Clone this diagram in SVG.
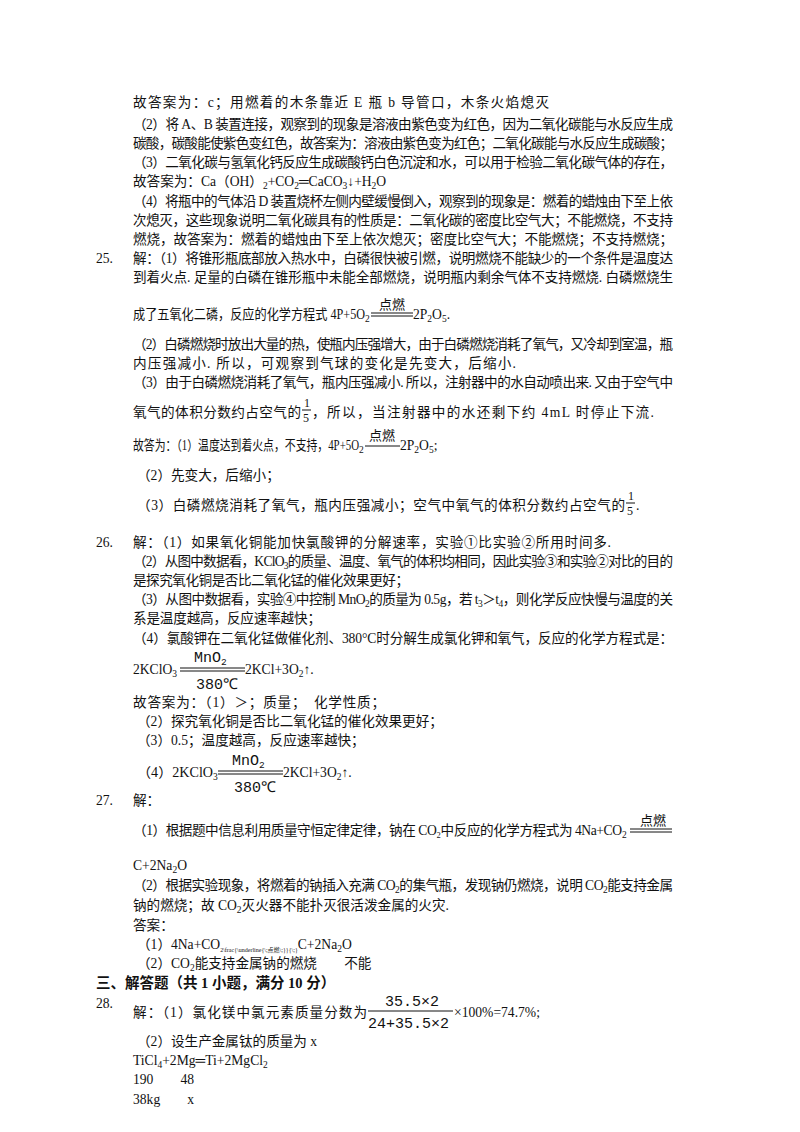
<svg xmlns="http://www.w3.org/2000/svg" width="800" height="1132" viewBox="0 0 800 1132">
<style>
text{font-family:"Liberation Serif","Noto Sans CJK SC",serif;font-size:13.6px;fill:#111}
.s{font-size:9.5px}
.b{font-weight:bold;font-size:14.5px}
.m{font-family:"Liberation Mono","DejaVu Sans Mono",monospace;font-size:15px}
.f{font-size:6px}
.d{font-size:13px}
line{stroke:#111;stroke-width:1}
</style>
<rect width="800" height="1132" fill="#fff"/>
<g id="text">
<text x="133" y="107" textLength="416">故答案为：c；用燃着的木条靠近 E 瓶 b 导管口，木条火焰熄灭</text>
<text x="133" y="129" textLength="540">（2）将 A、B 装置连接，观察到的现象是溶液由紫色变为红色，因为二氧化碳能与水反应生成</text>
<text x="133" y="148" textLength="540">碳酸，碳酸能使紫色变红色，故答案为：溶液由紫色变为红色；二氧化碳能与水反应生成碳酸；</text>
<text x="133" y="167" textLength="540">（3）二氧化碳与氢氧化钙反应生成碳酸钙白色沉淀和水，可以用于检验二氧化碳气体的存在，</text>
<text x="133" y="186">故答案为：Ca（OH）<tspan class="s" dy="3">2</tspan><tspan dy="-3">+CO</tspan><tspan class="s" dy="3">2</tspan><tspan dy="-3">═CaCO</tspan><tspan class="s" dy="3">3</tspan><tspan dy="-3">↓+H</tspan><tspan class="s" dy="3">2</tspan><tspan dy="-3">O</tspan></text>
<text x="133" y="206" textLength="540">（4）将瓶中的气体沿 D 装置烧杯左侧内壁缓慢倒入，观察到的现象是：燃着的蜡烛由下至上依</text>
<text x="133" y="225" textLength="540">次熄灭，这些现象说明二氧化碳具有的性质是：二氧化碳的密度比空气大；不能燃烧，不支持</text>
<text x="133" y="244" textLength="540">燃烧，故答案为：燃着的蜡烛由下至上依次熄灭；密度比空气大；不能燃烧；不支持燃烧；</text>
<text x="96" y="263">25.</text>
<text x="133" y="263" textLength="540">解：（1）将锥形瓶底部放入热水中，白磷很快被引燃，说明燃烧不能缺少的一个条件是温度达</text>
<text x="133" y="282" textLength="540">到着火点. 足量的白磷在锥形瓶中未能全部燃烧，说明瓶内剩余气体不支持燃烧. 白磷燃烧生</text>
<text x="133" y="319" textLength="232" lengthAdjust="spacingAndGlyphs">成了五氧化二磷，反应的化学方程式 4P+5O</text>
<text x="365" y="322" class="s">2</text>
<line x1="371" y1="313" x2="413" y2="313"/><line x1="371" y1="316" x2="413" y2="316"/>
<text x="379" y="309" class="d">点燃</text>
<text x="413" y="319">2P<tspan class="s" dy="3">2</tspan><tspan dy="-3">O</tspan><tspan class="s" dy="3">5</tspan><tspan dy="-3">.</tspan></text>
<text x="133" y="349" textLength="540">（2）白磷燃烧时放出大量的热，使瓶内压强增大，由于白磷燃烧消耗了氧气，又冷却到室温，瓶</text>
<text x="133" y="368" textLength="383">内压强减小. 所以，可观察到气球的变化是先变大，后缩小.</text>
<text x="133" y="387" textLength="540">（3）由于白磷燃烧消耗了氧气，瓶内压强减小. 所以，注射器中的水自动喷出来. 又由于空气中</text>
<text x="133" y="417" textLength="168">氧气的体积分数约占空气的</text>
<text x="304" y="407" style="font-size:12px">1</text><line x1="302" y1="410" x2="311" y2="410"/><text x="303" y="422" style="font-size:12px">5</text>
<text x="312" y="417" textLength="342">，所以，当注射器中的水还剩下约 4mL 时停止下流.</text>
<text x="133" y="450" textLength="226" lengthAdjust="spacingAndGlyphs">故答为：（1）温度达到着火点，不支持，4P+5O</text>
<text x="359" y="453" class="s">2</text>
<line x1="365" y1="446" x2="400" y2="446"/>
<text x="369" y="440" class="d">点燃</text>
<text x="400" y="450">2P<tspan class="s" dy="3">2</tspan><tspan dy="-3">O</tspan><tspan class="s" dy="3">5</tspan><tspan dy="-3">;</tspan></text>
<text x="137" y="480">（2）先变大，后缩小；</text>
<text x="137" y="510" textLength="488">（3）白磷燃烧消耗了氧气，瓶内压强减小；空气中氧气的体积分数约占空气的</text>
<text x="628" y="500" style="font-size:12px">1</text><line x1="626" y1="503" x2="635" y2="503"/><text x="627" y="515" style="font-size:12px">5</text>
<text x="636" y="510">.</text>
<text x="96" y="547">26.</text>
<text x="133" y="547" textLength="478">解：（1）如果氧化铜能加快氯酸钾的分解速率，实验①比实验②所用时间多.</text>
<text x="133" y="566" textLength="540">（2）从图中数据看，KClO<tspan class="s" dy="3">3</tspan><tspan dy="-3">的质量、温度、氧气的体积均相同，因此实验③和实验②对比的目的</tspan></text>
<text x="133" y="585" textLength="276">是探究氧化铜是否比二氧化锰的催化效果更好；</text>
<text x="133" y="604" textLength="540">（3）从图中数据看，实验④中控制 MnO<tspan class="s" dy="3">2</tspan><tspan dy="-3">的质量为 0.5g，若 t</tspan><tspan class="s" dy="3">3</tspan><tspan dy="-3">＞t</tspan><tspan class="s" dy="3">4</tspan><tspan dy="-3">，则化学反应快慢与温度的关</tspan></text>
<text x="133" y="623" textLength="188">系是温度越高，反应速率越快；</text>
<text x="133" y="643" textLength="540">（4）氯酸钾在二氧化锰做催化剂、380°C时分解生成氯化钾和氧气，反应的化学方程式是：</text>
<text x="133" y="674">2KClO<tspan class="s" dy="3">3</tspan></text>
<line x1="180" y1="668" x2="245" y2="668"/><line x1="180" y1="671" x2="245" y2="671"/>
<text x="194" y="662" class="m">MnO<tspan class="s" dy="3">2</tspan></text>
<text x="196" y="689" class="m">380℃</text>
<text x="245" y="674">2KCl+3O<tspan class="s" dy="3">2</tspan><tspan dy="-3">↑.</tspan></text>
<text x="133" y="707" textLength="252">故答案为：（1）＞；质量；　化学性质；</text>
<text x="137" y="726">（2）探究氧化铜是否比二氧化锰的催化效果更好；</text>
<text x="137" y="745">（3）0.5；温度越高，反应速率越快；</text>
<text x="137" y="777" textLength="76" lengthAdjust="spacingAndGlyphs">（4）2KClO</text>
<text x="213" y="780" class="s">3</text>
<line x1="218" y1="771" x2="283" y2="771"/><line x1="218" y1="774" x2="283" y2="774"/>
<text x="232" y="765" class="m">MnO<tspan class="s" dy="3">2</tspan></text>
<text x="234" y="792" class="m">380℃</text>
<text x="283" y="777">2KCl+3O<tspan class="s" dy="3">2</tspan><tspan dy="-3">↑.</tspan></text>
<text x="96" y="805">27.</text>
<text x="133" y="805">解：</text>
<text x="133" y="835" textLength="489">（1）根据题中信息利用质量守恒定律定律，钠在 CO₂中反应的化学方程式为 4Na+CO</text>
<text x="622" y="838" class="s">2</text>
<line x1="630" y1="829" x2="672" y2="829"/><line x1="630" y1="832" x2="672" y2="832"/>
<text x="640" y="825" class="d">点燃</text>
<text x="133" y="870">C+2Na<tspan class="s" dy="3">2</tspan><tspan dy="-3">O</tspan></text>
<text x="133" y="890" textLength="540">（2）根据实验现象，将燃着的钠插入充满 CO<tspan class="s" dy="3">2</tspan><tspan dy="-3">的集气瓶，发现钠仍燃烧，说明 CO</tspan><tspan class="s" dy="3">2</tspan><tspan dy="-3">能支持金属</tspan></text>
<text x="133" y="910">钠的燃烧；故 CO<tspan class="s" dy="3">2</tspan><tspan dy="-3">灭火器不能扑灭很活泼金属的火灾.</tspan></text>
<text x="133" y="930">答案：</text>
<text x="137" y="949">（1）4Na+CO<tspan class="f" dy="3">2\frac{\underline{\;点燃\;}}{\;}</tspan><tspan dy="-3">C+2Na</tspan><tspan class="s" dy="3">2</tspan><tspan dy="-3">O</tspan></text>
<text x="137" y="968">（2）CO<tspan class="s" dy="3">2</tspan><tspan dy="-3">能支持金属钠的燃烧　　不能</tspan></text>
<text x="96" y="988" class="b">三、解答题（共 1 小题，满分 10 分）</text>
<text x="96" y="1008">28.</text>
<text x="133" y="1017" textLength="234">解：（1）氯化镁中氯元素质量分数为</text>
<text x="385" y="1006" class="m">35.5×2</text>
<line x1="368" y1="1011" x2="453" y2="1011"/>
<text x="368" y="1028" class="m">24+35.5×2</text>
<text x="454" y="1017">×100%=74.7%;</text>
<text x="137" y="1046">（2）设生产金属钛的质量为 x</text>
<text x="133" y="1065">TiCl<tspan class="s" dy="3">4</tspan><tspan dy="-3">+2Mg═Ti+2MgCl</tspan><tspan class="s" dy="3">2</tspan></text>
<text x="133" y="1084">190　　48</text>
<text x="133" y="1104">38kg　　x</text>
</g>
</svg>
